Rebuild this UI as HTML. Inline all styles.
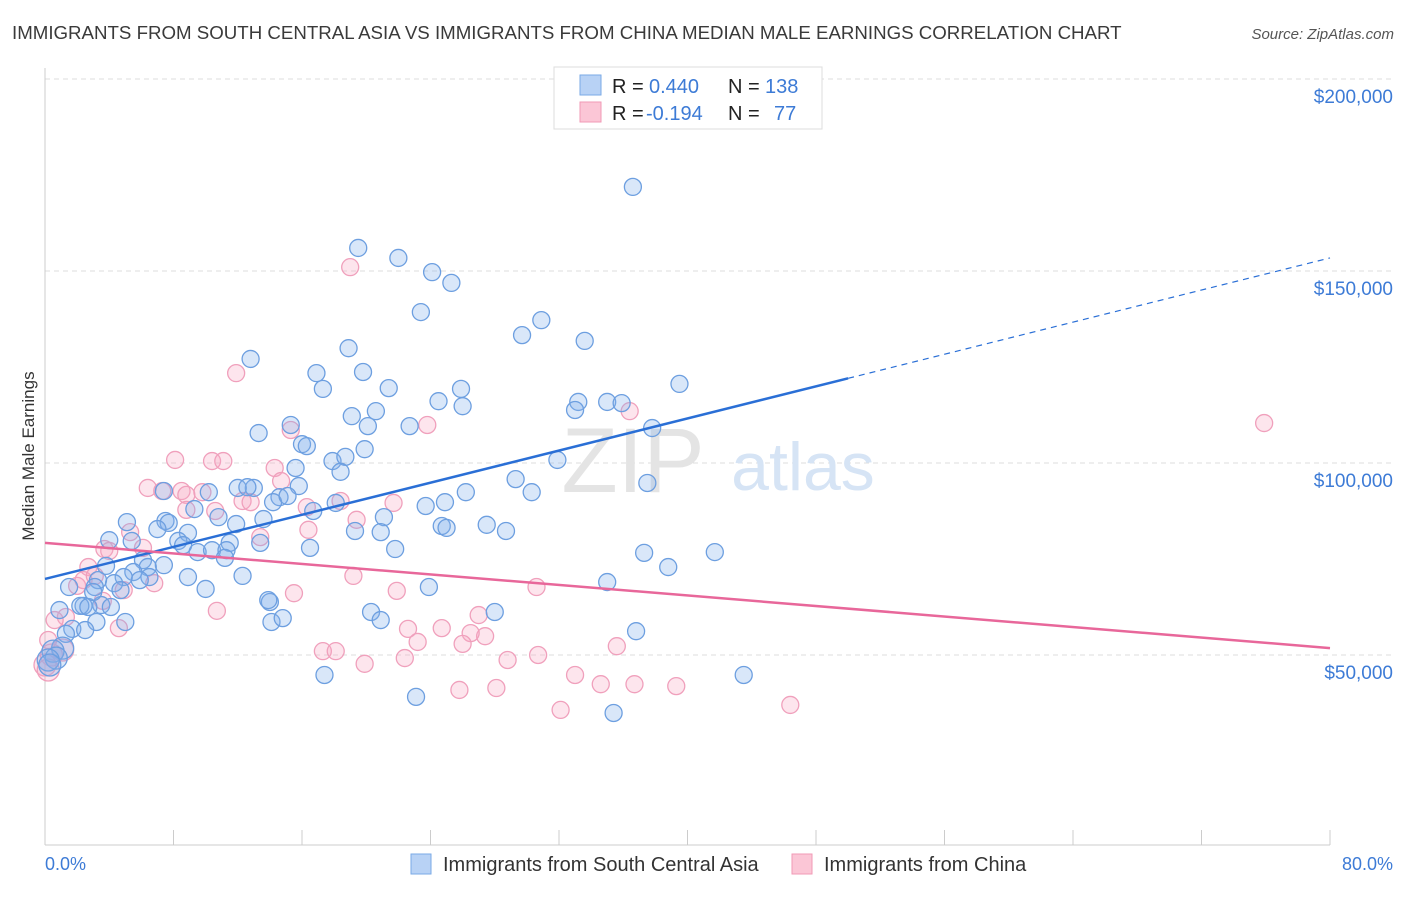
<!DOCTYPE html>
<html><head><meta charset="utf-8"><style>
body{margin:0;background:#fff;font-family:"Liberation Sans",sans-serif;}
svg text{font-family:"Liberation Sans",sans-serif;}
</style></head><body>
<svg id="chart" width="1406" height="892">
<text x="12" y="39" font-size="18.7" fill="#3a3a3a">IMMIGRANTS FROM SOUTH CENTRAL ASIA VS IMMIGRANTS FROM CHINA MEDIAN MALE EARNINGS CORRELATION CHART</text>
<text x="1394" y="39" font-size="15" fill="#555" font-style="italic" text-anchor="end">Source: ZipAtlas.com</text>
<text x="0" y="0" transform="translate(34,456) rotate(-90)" font-size="17" fill="#333" text-anchor="middle">Median Male Earnings</text>
<g id="grid"></g>
<text x="633" y="492" font-size="92" fill="#e4e4e4" font-family="Liberation Serif" text-anchor="middle">ZIP</text>
<text x="803" y="490" font-size="68" fill="#d6e4f5" text-anchor="middle">atlas</text>
<g id="pts"></g>
<g id="lines"></g>
<g>
<rect x="554" y="67" width="268" height="62" fill="#fff" stroke="#ddd"/>
<rect x="580" y="75" width="21" height="20" fill="#b8d2f5" stroke="#7aaae6"/>
<rect x="580" y="102" width="21" height="20" fill="#fbc6d6" stroke="#f09ab6"/>
<text x="612" y="93" font-size="20" fill="#222">R =</text>
<text x="649" y="93" font-size="20" fill="#3d7bd6">0.440</text>
<text x="728" y="93" font-size="20" fill="#222">N =</text>
<text x="765" y="93" font-size="20" fill="#3d7bd6">138</text>
<text x="612" y="120" font-size="20" fill="#222">R =</text>
<text x="646" y="120" font-size="20" fill="#3d7bd6">-0.194</text>
<text x="728" y="120" font-size="20" fill="#222">N =</text>
<text x="774" y="120" font-size="20" fill="#3d7bd6">77</text>
</g>
<g>
<rect x="411" y="854" width="20" height="20" fill="#b8d2f5" stroke="#7aaae6"/>
<text x="443" y="871" font-size="20" fill="#333">Immigrants from South Central Asia</text>
<rect x="792" y="854" width="20" height="20" fill="#fbc6d6" stroke="#f09ab6"/>
<text x="824" y="871" font-size="20" fill="#333">Immigrants from China</text>
</g>
<text x="45" y="870" font-size="18" fill="#3d7bd6">0.0%</text>
<text x="1393" y="870" font-size="18" fill="#3d7bd6" text-anchor="end">80.0%</text>
</svg>
<script>
const yTicks=[50000,100000,150000,200000];
const yTickLabels=["$50,000","$100,000","$150,000","$200,000"];
const xTicks=[0,8,16,24,32,40,48,56,64,72,80];
const blueX=[36.6,19.5,22.0,24.1,25.3,23.4,30.9,29.7,33.6,18.9,12.8,16.9,19.8,17.3,21.4,25.9,39.5,33.2,35.0,35.9,33.0,24.5,26.0,20.6,19.1,20.1,15.3,22.7,37.8,13.3,16.0,16.3,15.6,17.9,18.7,18.4,19.9,31.9,29.3,30.3,37.5,26.2,23.7,24.9,15.8,14.6,14.2,15.1,18.1,16.7,13.0,12.0,12.6,10.2,7.4,9.3,10.8,11.9,13.6,21.1,24.7,25.0,27.5,28.7,19.3,20.9,5.1,7.5,7.7,7.0,8.9,8.3,8.6,9.5,10.4,11.5,11.3,13.4,16.5,21.8,11.2,5.4,4.0,6.1,6.4,7.4,3.8,5.5,6.5,5.9,4.9,4.3,3.3,8.9,10.0,12.3,37.3,41.7,38.8,35.0,23.9,3.1,2.4,2.2,3.5,4.1,2.7,5.0,3.2,1.7,2.5,1.3,1.1,0.5,0.7,0.2,0.3,20.3,20.9,14.0,14.1,14.8,28.0,36.8,17.4,23.1,35.4,43.5,13.9,1.5,3.0,4.7,0.9];
const blueY=[171.9,156.0,153.4,149.7,146.9,139.3,137.2,133.3,131.8,129.9,127.1,123.4,123.7,119.3,119.5,119.3,120.6,115.9,115.9,115.6,113.8,116.1,114.8,113.5,112.2,109.6,109.9,109.6,109.1,107.8,104.9,104.4,98.7,100.5,101.6,97.7,103.6,100.8,95.8,92.4,94.8,92.4,88.8,89.8,94.0,91.1,89.8,91.4,89.6,87.5,93.5,93.5,93.7,92.4,92.7,88.0,85.9,84.1,85.4,85.9,83.6,83.1,83.9,82.3,82.3,82.0,84.6,84.9,84.4,82.8,81.8,79.7,78.6,76.8,77.3,79.2,77.3,79.2,77.9,77.6,75.3,79.7,79.9,74.7,72.9,73.4,73.2,71.6,70.3,69.5,70.3,68.7,69.5,70.3,67.2,70.6,76.6,76.8,72.9,69.0,67.7,67.7,62.8,62.8,63.0,62.5,62.5,58.6,58.6,56.8,56.5,55.5,51.8,51.0,49.2,48.7,47.4,61.2,59.1,63.8,58.6,59.6,61.2,56.2,44.8,39.1,34.9,44.8,64.3,67.7,66.4,66.9,61.7];
const pinkX=[19.0,11.9,15.3,23.8,36.4,75.9,8.1,10.4,11.1,14.3,14.7,6.4,7.3,8.5,8.8,9.8,8.8,10.6,12.3,12.8,18.4,16.3,21.7,16.4,19.4,13.4,5.3,6.1,3.7,4.0,2.7,2.0,2.4,3.1,4.9,6.8,3.6,1.3,4.6,10.7,15.5,19.2,21.9,30.6,27.0,22.6,24.7,27.4,26.5,23.2,26.0,28.8,30.7,35.6,17.3,18.1,19.9,22.4,25.8,28.1,33.0,34.6,36.7,39.3,32.1,46.4,1.1,0.4,0.2,0.6,0.0,0.2];
const pinkY=[151.0,123.4,108.6,109.9,113.5,110.4,100.8,100.5,100.5,98.7,95.3,93.5,92.7,92.7,91.7,92.4,87.8,87.5,90.1,89.8,90.1,88.5,89.6,82.6,85.2,80.7,82.0,77.9,77.6,77.1,72.9,68.0,69.5,70.6,66.9,68.7,64.1,59.9,57.0,61.5,66.1,70.6,66.7,67.7,60.4,56.8,57.0,54.9,55.7,53.4,52.9,48.7,50.0,52.3,51.0,51.0,47.7,49.2,40.9,41.4,44.8,42.4,42.4,41.9,35.7,37.0,51.3,50.0,53.9,59.1,47.4,46.1];
const blueTrend=[69.8,153.4];
const pinkTrend=[79.2,51.8];
const blueSolidEnd=50;
const NS="http://www.w3.org/2000/svg";
const xs=p=>45+p*(1285/80);
const ys=v=>655-(v-50000)*192/50000;
const yk=k=>ys(k*1000);
function mk(tag,attrs,parent){const e=document.createElementNS(NS,tag);for(const k in attrs)e.setAttribute(k,attrs[k]);parent.appendChild(e);return e;}
const grid=document.getElementById('grid');
yTicks.forEach((t,i)=>{
 const l=mk('line',{x1:45,x2:1393,y1:ys(t),y2:ys(t),stroke:'#ddd','stroke-dasharray':'5,4'},grid);
 
 
 const tx=mk('text',{x:1393,y:ys(t)+24,'font-size':19,fill:'#3d7bd6','text-anchor':'end'},grid);
 tx.textContent=yTickLabels[i];
 
 
});
const ax=mk('line',{x1:45,x2:1330,y1:845,y2:845,stroke:'#ccc'},grid);


const ay=mk('line',{x1:45,x2:45,y1:68,y2:845,stroke:'#ccc'},grid);


xTicks.forEach(t=>{
 const l=mk('line',{x1:xs(t),x2:xs(t),y1:830,y2:845,stroke:'#ccc'},grid);
 
 
});
const pts=document.getElementById('pts');
function dots(X,Y,fill,stroke,name){
 X.forEach((x,i)=>{
  const r=(x<1.2&&Y[i]<52)?11:8.5;
  const c=mk('circle',{cx:xs(x),cy:yk(Y[i]),r:r,fill:fill,stroke:stroke,'stroke-width':1.3},pts);
  
  
 });
}
dots(pinkX,pinkY,'rgba(248,170,196,0.3)','#f0a0bc','pink-point');
dots(blueX,blueY,'rgba(130,175,235,0.3)','#6d9fe0','blue-point');
const lines=document.getElementById('lines');
const bAt=p=>blueTrend[0]+(blueTrend[1]-blueTrend[0])*p/80;
const bl=mk('line',{x1:xs(0),y1:yk(bAt(0)),x2:xs(blueSolidEnd),y2:yk(bAt(blueSolidEnd)),stroke:'#2a6fd6','stroke-width':2.5},lines);


const bd=mk('line',{x1:xs(blueSolidEnd),y1:yk(bAt(blueSolidEnd)),x2:xs(80),y2:yk(bAt(80)),stroke:'#2a6fd6','stroke-width':1.2,'stroke-dasharray':'6,5'},lines);


const pl=mk('line',{x1:xs(0),y1:yk(pinkTrend[0]),x2:xs(80),y2:yk(pinkTrend[1]),stroke:'#e8679a','stroke-width':2.5},lines);


</script>
</body></html>
